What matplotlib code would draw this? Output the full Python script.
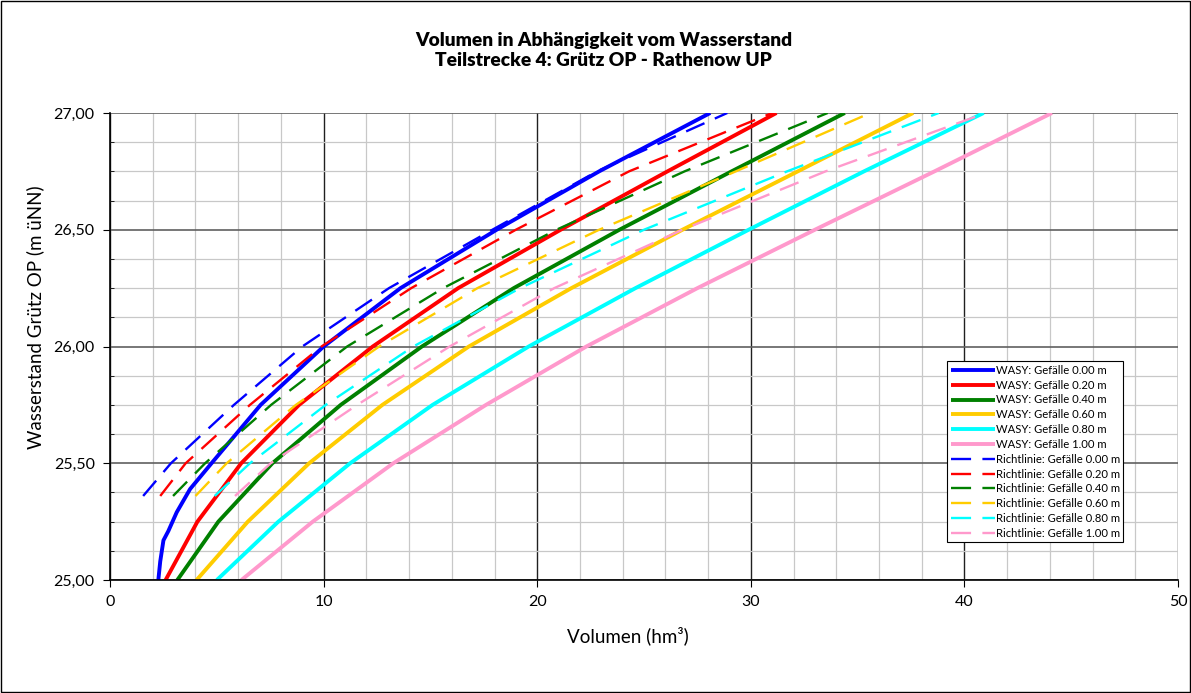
import matplotlib
matplotlib.use('Agg')
import matplotlib.pyplot as plt
from matplotlib.ticker import MultipleLocator, FuncFormatter

plt.rcParams['font.family'] = ['Lato', 'DejaVu Sans']

# Wasserstand (m uNN) / Volumen (hm3)
h_wasy = [25.0, 25.25, 25.5, 25.75, 26.0, 26.25, 26.5, 26.75, 27.0]
h_wasy_000 = [25.0, 25.08, 25.17, 25.21, 25.29, 25.39, 25.5, 25.75, 26.0, 26.25, 26.5, 26.75, 27.0]
v_wasy_000 = [2.26, 2.35, 2.5, 2.73, 3.12, 3.75, 4.75, 7.05, 10.0, 13.6, 18.1, 22.9, 28.1]
v_wasy_020 = [2.6, 4.09, 6.14, 8.85, 12.3, 16.3, 21.1, 26.1, 31.2]
v_wasy_040 = [3.15, 5.07, 7.6, 10.8, 14.6, 18.9, 23.85, 29.1, 34.4]
v_wasy_060 = [4.05, 6.45, 9.32, 12.75, 16.8, 21.6, 26.8, 32.2, 37.6]
v_wasy_080 = [5.0, 7.88, 11.24, 15.1, 19.6, 24.6, 29.9, 35.3, 40.9]
v_wasy_100 = [6.15, 9.49, 13.26, 17.6, 22.3, 27.5, 33.0, 38.6, 44.1]

h_richt = [25.36, 25.5, 25.75, 26.0, 26.25, 26.5, 26.75, 27.0]
v_richt_000 = [1.55, 2.85, 5.8, 9.0, 13.06, 17.9, 22.8, 28.9]
v_richt_020 = [2.35, 3.54, 6.55, 9.9, 14.1, 19.0, 24.3, 31.0]
v_richt_040 = [2.95, 4.45, 7.54, 11.1, 15.6, 20.9, 26.9, 33.6]
v_richt_060 = [4.0, 5.46, 8.7, 12.6, 17.2, 22.9, 29.3, 35.6]
v_richt_080 = [4.9, 6.55, 10.1, 14.2, 19.2, 25.0, 31.7, 38.8]
v_richt_100 = [5.85, 7.52, 11.57, 15.9, 20.8, 26.8, 33.5, 41.0]

gefaelle = ['0.00', '0.20', '0.40', '0.60', '0.80', '1.00']
farben = ['#0000FF', '#FF0000', '#008000', '#FFCC00', '#00FFFF', '#FF99CC']

fig = plt.figure(figsize=(11.91, 6.93), dpi=100)
ax = fig.add_axes([0.0924, 0.163, 0.8967, 0.674])

wasy = [(h_wasy_000, v_wasy_000), (h_wasy, v_wasy_020), (h_wasy, v_wasy_040),
        (h_wasy, v_wasy_060), (h_wasy, v_wasy_080), (h_wasy, v_wasy_100)]
richt = [v_richt_000, v_richt_020, v_richt_040, v_richt_060, v_richt_080, v_richt_100]

for (h, v), g, c in zip(wasy, gefaelle, farben):
    ax.plot(v, h, color=c, lw=2.8, solid_capstyle='butt', solid_joinstyle='round',
            label='WASY: Gefälle %s m' % g, zorder=3)
for v, g, c in zip(richt, gefaelle, farben):
    ax.plot(v, h_richt, color=c, lw=1.7, dashes=(8.5, 4.8), dash_capstyle='butt',
            label='Richtlinie: Gefälle %s m' % g, zorder=3)

ax.set_xlim(0, 50)
ax.set_ylim(25, 27)
ax.xaxis.set_major_locator(MultipleLocator(10))
ax.xaxis.set_minor_locator(MultipleLocator(2))
ax.yaxis.set_major_locator(MultipleLocator(0.5))
ax.yaxis.set_minor_locator(MultipleLocator(0.125))
ax.yaxis.set_major_formatter(FuncFormatter(lambda y, p: ('%.2f' % y).replace('.', ',')))

ax.grid(which='minor', color='#C8C8C8', lw=0.9)
ax.grid(which='major', axis='x', color='#202020', lw=1.0)
ax.grid(which='major', axis='y', color='#606060', lw=1.2)
ax.set_axisbelow(True)
for s in ['top', 'right']:
    ax.spines[s].set_visible(False)
for s in ['left', 'bottom']:
    ax.spines[s].set_color('black')
    ax.spines[s].set_linewidth(1.2)
    ax.spines[s].set_zorder(4)
ax.tick_params(which='major', direction='out', length=5, labelsize=11.5, pad=6)
ax.tick_params(which='minor', direction='in', length=3)
ax.tick_params(axis='x', which='minor', length=0)

ax.set_xlabel('Volumen (hm³)', fontsize=13.5)
ax.set_ylabel('Wasserstand Grütz OP (m üNN)', fontsize=13.5)
ax.xaxis.set_label_coords(0.485, -0.12)
ax.yaxis.set_label_coords(-0.07, 0.563)
ax.xaxis.label.set_va('center')
ax.yaxis.label.set_va('center')

fig.text(0.507, 0.942, 'Volumen in Abhängigkeit vom Wasserstand',
         ha='center', va='center', fontsize=13.8, fontweight='heavy')
fig.text(0.507, 0.913, 'Teilstrecke 4: Grütz OP - Rathenow UP',
         ha='center', va='center', fontsize=13.8, fontweight='heavy')

leg = ax.legend(loc='upper left', bbox_to_anchor=(0.784, 0.468), fontsize=8.1, frameon=True,
                fancybox=False, edgecolor='black', framealpha=1, handlelength=3.9,
                handletextpad=0.1, labelspacing=0.34, borderpad=0.3, borderaxespad=0)
leg.get_frame().set_linewidth(0.8)

fig.add_artist(plt.Rectangle((0.0008, 0.0012), 0.9984, 0.9976, transform=fig.transFigure,
                             fill=False, edgecolor='black', lw=1.0))

fig.savefig('out.png', dpi=100)
